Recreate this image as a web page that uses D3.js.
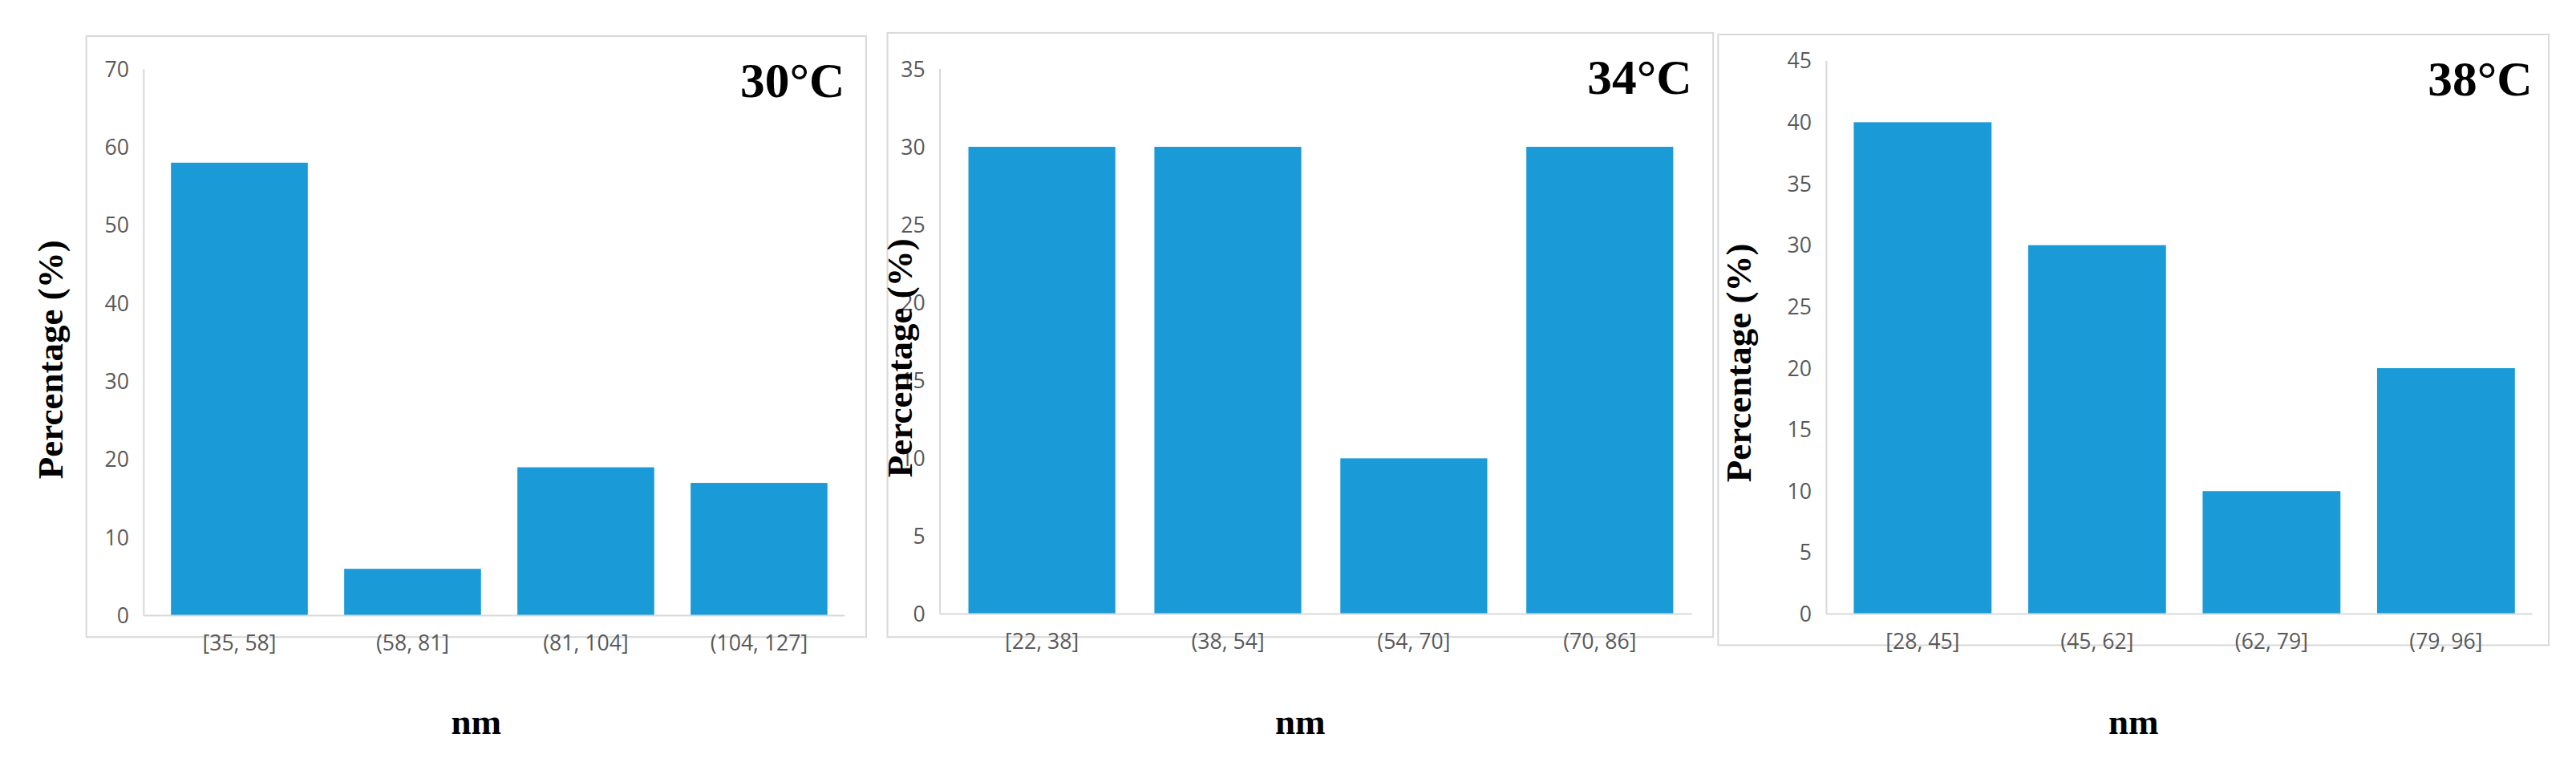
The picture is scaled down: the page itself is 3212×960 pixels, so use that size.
<!DOCTYPE html>
<html>
<head>
<meta charset="utf-8">
<script src="https://cdn.jsdelivr.net/npm/d3@7"></script>
<style>
  html, body { margin: 0; padding: 0; background: #fff; }
  svg { display: block; }
</style>
</head>
<body>
<svg id="chart" width="3212" height="960" viewBox="0 0 1568 469"></svg>
<script>
// data
const titles = ['30°C', '34°C', '38°C']
const cats30 = ['[35, 58]', '(58, 81]', '(81, 104]', '(104, 127]']
const vals30 = [58, 6, 19, 17]
const cats34 = ['[22, 38]', '(38, 54]', '(54, 70]', '(70, 86]']
const vals34 = [30, 30, 10, 30]
const cats38 = ['[28, 45]', '(45, 62]', '(62, 79]', '(79, 96]']
const vals38 = [40, 30, 10, 20]
const yMax = [70, 35, 45]
const yStep = [10, 5, 5]

// layout (in viewBox units)
const panels = [
  { box: [52, 22, 527, 388], x0: 87, x1: 514, y0: 375, y1: 42, ylx: 30, cats: cats30, vals: vals30 },
  { box: [540, 20, 1043, 388], x0: 572, x1: 1030, y0: 374, y1: 42, ylx: 547, cats: cats34, vals: vals34 },
  { box: [1046, 21, 1552, 393], x0: 1112, x1: 1542, y0: 374, y1: 37, ylx: 1058, cats: cats38, vals: vals38 }
]

const svg = d3.select('#chart')

panels.forEach((p, i) => {
  const g = svg.append('g')

  g.append('rect')
    .attr('x', p.box[0]).attr('y', p.box[1])
    .attr('width', p.box[2] - p.box[0]).attr('height', p.box[3] - p.box[1])
    .attr('fill', '#fff').attr('stroke', '#d9d9d9').attr('stroke-width', 1)

  const x = d3.scaleBand().domain(p.cats).range([p.x0 + 6, p.x1]).paddingInner(0.21).paddingOuter(0.1)
  const y = d3.scaleLinear().domain([0, yMax[i]]).range([p.y0, p.y1])

  g.selectAll('rect.bar')
    .data(p.vals)
    .join('rect')
    .attr('class', 'bar')
    .attr('x', (d, j) => x(p.cats[j]))
    .attr('width', x.bandwidth())
    .attr('y', d => y(d))
    .attr('height', d => y(0) - y(d))
    .attr('fill', '#1a9bd7')

  // axis lines
  g.append('line').attr('x1', p.x0).attr('x2', p.x0).attr('y1', y(yMax[i])).attr('y2', y(0))
    .attr('stroke', '#d9d9d9').attr('stroke-width', 1)
  g.append('line').attr('x1', p.x0).attr('x2', p.x1).attr('y1', y(0)).attr('y2', y(0))
    .attr('stroke', '#d9d9d9').attr('stroke-width', 1)

  const yAxis = d3.axisLeft(y).tickValues(d3.range(0, yMax[i] + 0.1, yStep[i])).tickSize(0).tickPadding(9)
  g.append('g').attr('transform', 'translate(' + p.x0 + ',0)').call(yAxis)
    .call(a => a.select('.domain').remove())
    .selectAll('text')
    .attr('font-family', 'Open Sans, sans-serif').attr('font-size', 13).attr('fill', '#595959')

  const xAxis = d3.axisBottom(x).tickSize(0).tickPadding(12)
  g.append('g').attr('transform', 'translate(0,' + y(0) + ')').call(xAxis)
    .call(a => a.select('.domain').remove())
    .selectAll('text')
    .attr('font-family', 'Open Sans, sans-serif').attr('font-size', 13).attr('fill', '#595959')

  g.append('text')
    .attr('x', p.x1).attr('y', p.box[1] + 37)
    .attr('text-anchor', 'end')
    .attr('font-family', 'Liberation Serif, Times New Roman, serif').attr('font-weight', 'bold').attr('font-size', 30)
    .text(titles[i])

  g.append('text')
    .attr('transform', 'translate(' + p.ylx + ',' + ((p.box[1] + p.box[3]) / 2 + 14) + ') rotate(-90)')
    .attr('text-anchor', 'middle').attr('dy', '0.35em')
    .attr('font-family', 'Liberation Serif, Times New Roman, serif').attr('font-weight', 'bold').attr('font-size', 22)
    .text('Percentage (%)')

  g.append('text')
    .attr('x', (p.box[0] + p.box[2]) / 2 + 0).attr('y', 447)
    .attr('text-anchor', 'middle')
    .attr('font-family', 'Liberation Serif, Times New Roman, serif').attr('font-weight', 'bold').attr('font-size', 22)
    .text('nm')
})
</script>
</body>
</html>
